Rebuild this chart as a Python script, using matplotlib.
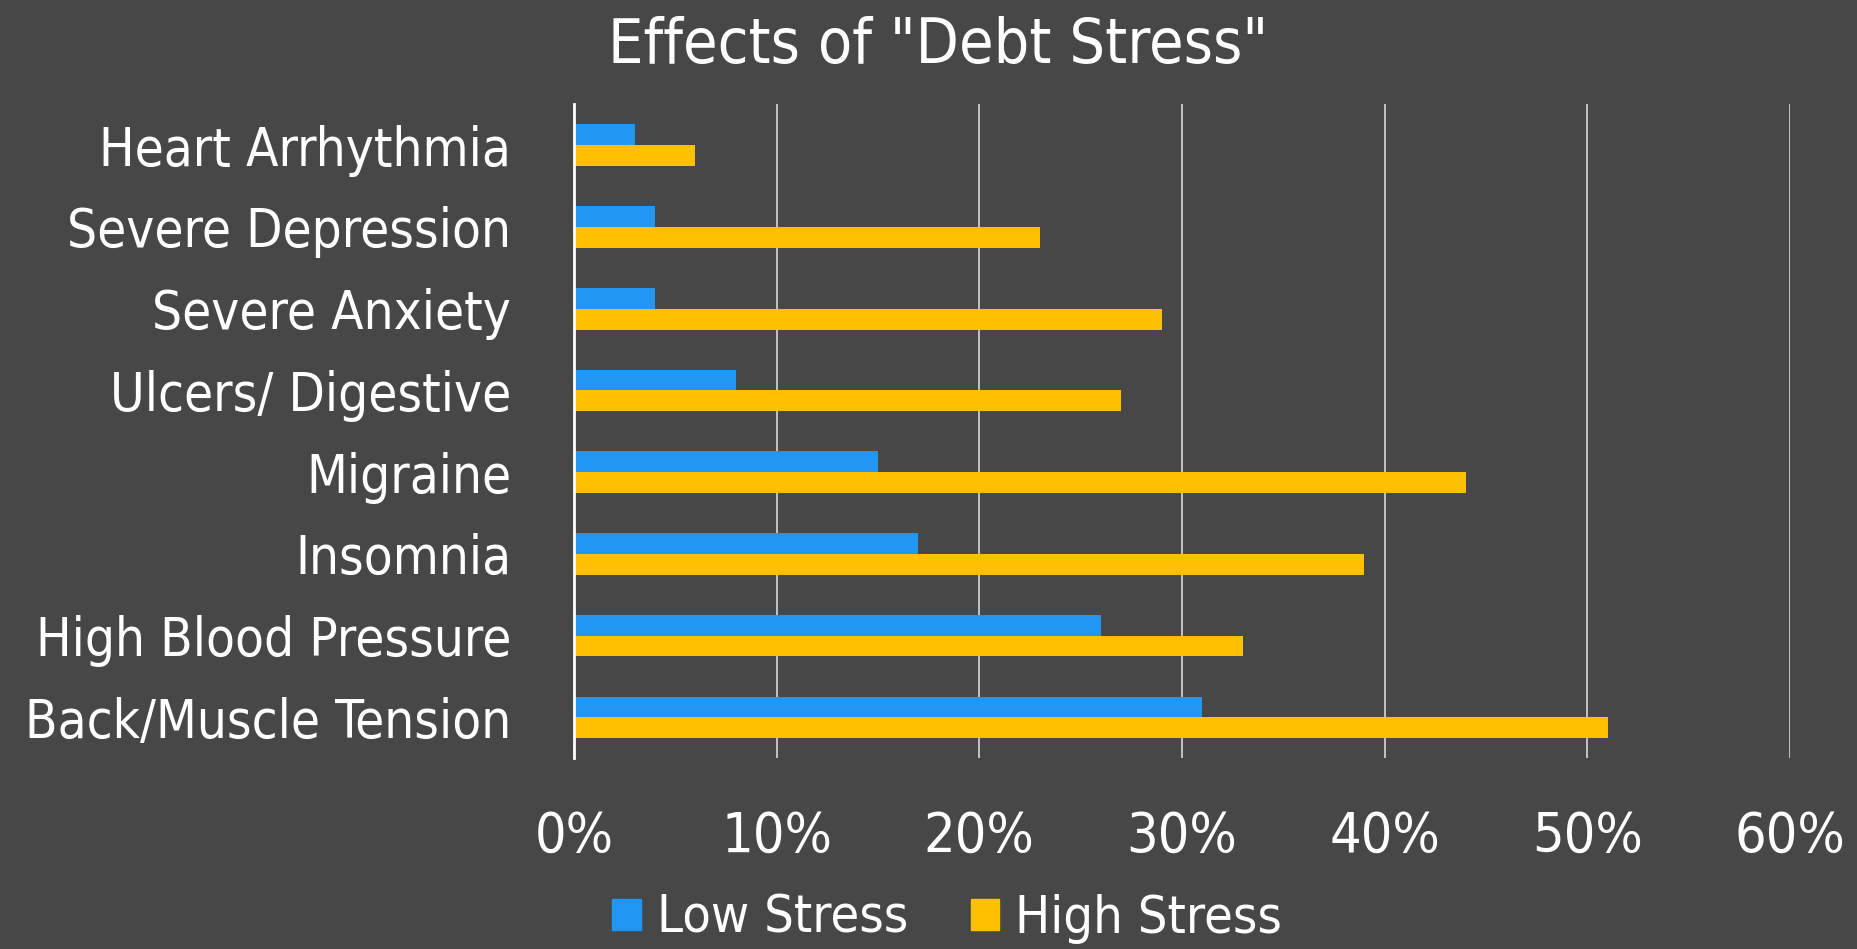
import matplotlib.pyplot as plt
from matplotlib.ticker import PercentFormatter
from matplotlib.patches import Patch
import numpy as np

categories = ["Heart Arrhythmia", "Severe Depression", "Severe Anxiety",
              "Ulcers/ Digestive", "Migraine", "Insomnia",
              "High Blood Pressure", "Back/Muscle Tension"]
low_stress = [3, 4, 4, 8, 15, 17, 26, 31]
high_stress = [6, 23, 29, 27, 44, 39, 33, 51]
x_ticks = [0, 10, 20, 30, 40, 50, 60]

BG = "#474747"
BLUE = "#2196F3"
GOLD = "#FFC000"
FONT = dict(family="DejaVu Sans", stretch="condensed")

fig = plt.figure(figsize=(18.57, 9.49), dpi=100, facecolor=BG)
ax = fig.add_axes([0.309, 0.201, 0.655, 0.689], facecolor=BG)

y = np.arange(len(categories))
h = 0.255
ax.barh(y - h / 2, low_stress, height=h, color=BLUE, label="Low Stress", zorder=3)
ax.barh(y + h / 2, high_stress, height=h, color=GOLD, label="High Stress", zorder=3)

ax.set_ylim(len(categories) - 0.5, -0.5)
ax.set_xlim(0, 60)
ax.set_xticks(x_ticks)
ax.xaxis.set_major_formatter(PercentFormatter(decimals=0))
ax.set_yticks(y)
ax.set_yticklabels(categories)

ax.grid(axis="x", color="#d9d9d9", linewidth=1.2, zorder=0)
for s in ["top", "right", "bottom"]:
    ax.spines[s].set_visible(False)
ax.spines["left"].set_color("white")
ax.spines["left"].set_linewidth(2)
ax.spines["left"].set_zorder(4)

ax.tick_params(axis="both", length=0, colors="white")
ax.tick_params(axis="x", pad=37, labelsize=40)
ax.tick_params(axis="y", pad=45, labelsize=38)
for lbl in ax.get_xticklabels() + ax.get_yticklabels():
    lbl.set_fontfamily(FONT["family"])
    lbl.set_fontstretch(FONT["stretch"])

fig.text(0.505, 0.952, 'Effects of "Debt Stress"', ha="center", va="center",
         color="white", fontsize=45, **FONT)

handles = [Patch(color=BLUE, label="Low Stress"), Patch(color=GOLD, label="High Stress")]
fig.legend(handles=handles, loc="center", bbox_to_anchor=(0.51, 0.032), ncol=2,
           frameon=False, prop=dict(size=37.5, **FONT), labelcolor="white",
           handlelength=0.55, handleheight=0.55, handletextpad=0.3,
           columnspacing=1.2)

fig.savefig("out.png", dpi=100, facecolor=BG)
